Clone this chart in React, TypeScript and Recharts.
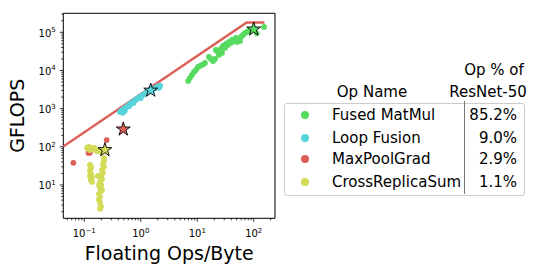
import { ScatterChart, Scatter, XAxis, YAxis, ReferenceArea, Legend, Symbols } from "recharts"

// [Floating Ops/Byte, GFLOPS]
const fusedMatMul = [
    [6.9, 5310], [7.43, 6360], [8.06, 7620], [8.75, 9140], [9.49, 10300], [10.3, 12400],
    [11.2, 13100], [12.6, 14400], [13.7, 15700], [16.1, 22500], [17.5, 20000], [19.0, 17700],
    [20.6, 20000], [21.4, 34400], [23.2, 30500], [24.2, 25500], [26.2, 36500], [27.4, 28700],
    [28.5, 43700], [30.9, 38800], [32.2, 49400], [34.9, 46500], [36.4, 55700], [39.5, 52500],
    [41.1, 62900], [44.6, 59200], [48.4, 71000], [50.4, 55700], [54.7, 66800], [57.0, 59200],
    [59.4, 75300], [64.4, 85000], [69.9, 96000], [75.8, 102000], [82.2, 108000], [89.2, 115000],
    [113, 94000], [152, 138000],
]
const loopFusion = [
    [0.43, 820], [0.46, 900], [0.48, 780], [0.5, 980], [0.52, 870], [0.55, 1100], [0.59, 1200],
    [0.62, 1150], [0.66, 1350], [0.7, 1450], [0.74, 1400], [0.78, 1650], [0.82, 1700], [0.88, 1850],
    [0.95, 2000], [1.0, 1900], [1.08, 2250], [1.15, 2400], [1.22, 2500], [1.3, 2700], [1.4, 2850],
    [1.55, 3000], [1.7, 3300], [1.85, 3500], [2.0, 3800], [2.1, 3500], [2.2, 4000],
]
const maxPoolGrad = [[0.064, 38], [0.119, 69], [0.125, 70], [0.249, 150]]
const crossReplicaSum = [
    [0.112, 94], [0.121, 99], [0.131, 94], [0.143, 88], [0.155, 83], [0.168, 78], [0.182, 78],
    [0.198, 73], [0.214, 78], [0.125, 83], [0.15, 94], [0.19, 83],
    [0.126, 33.6], [0.131, 28], [0.126, 23.4], [0.131, 19.5], [0.137, 16.3], [0.131, 13.6],
    [0.137, 12], [0.126, 17.3], [0.131, 30],
    [0.223, 51], [0.223, 42.7], [0.214, 35.6], [0.223, 29.8], [0.206, 24.8], [0.214, 20.8],
    [0.198, 17.3], [0.206, 14.4], [0.19, 12.1], [0.198, 10], [0.19, 8.4], [0.198, 7.0],
    [0.182, 5.8], [0.19, 4.9], [0.182, 4.1], [0.19, 3.4], [0.198, 2.7], [0.19, 2.4],
    [0.182, 10], [0.175, 17.3], [0.206, 7.5],
]
// one starred op per series
const stars = [[100, 120000], [1.5, 3000], [0.49, 288], [0.232, 83]]
// roofline: 2400 GB/s, 180 TFLOPS peak
const roofline = [[0.0417, 100], [75, 180000], [155, 180000]]

const opNames = ["Fused MatMul", "Loop Fusion", "MaxPoolGrad", "CrossReplicaSum"]
const opShares = ["85.2%", "9.0%", "2.9%", "1.1%"]
const COLORS = ["#57db5f", "#57d3db", "#db5f57", "#d3db57"]

const xTicks = [0.05, 0.06, 0.07, 0.08, 0.09, 0.1, 0.2, 0.3, 0.4, 0.5, 0.6, 0.7, 0.8, 0.9,
    1, 2, 3, 4, 5, 6, 7, 8, 9, 10, 20, 30, 40, 50, 60, 70, 80, 90, 100, 200]
const yTicks = [2, 3, 4, 5, 6, 7, 8, 9, 10, 20, 30, 40, 50, 60, 70, 80, 90, 100, 200, 300, 400, 500,
    600, 700, 800, 900, 1000, 2000, 3000, 4000, 5000, 6000, 7000, 8000, 9000, 10000, 20000, 30000,
    40000, 50000, 60000, 70000, 80000, 90000, 100000, 200000, 300000]

const X_DOMAIN = [0.0425, 238]
const Y_DOMAIN = [1.34, 314000]
const FONT = "DejaVu Sans"

const series = [fusedMatMul, loopFusion, maxPoolGrad, crossReplicaSum]
const toPts = (arr: number[][]) => arr.map(([x, y]) => ({ x, y }))

const expLabel = (v: number) => {
    const e = Math.round(Math.log10(v))
    const major = Math.abs(Math.log10(v) - e) < 1e-6
    return { e, major, txt: e < 0 ? "\u2212" + -e : String(e) }
}

const XTick = (props: any) => {
    const { x, y, payload } = props
    const { major, txt } = expLabel(payload.value)
    return (
        <g>
            <line x1={x} x2={x} y1={y} y2={y + (major ? 3.5 : 2)} stroke="#000" strokeWidth={0.8} />
            {major && (
                <text x={x} y={y + 18.7} textAnchor="middle" fontSize={10} fontFamily={FONT} fill="#000">
                    10<tspan dy={-4.5} fontSize={7}>{txt}</tspan>
                </text>
            )}
        </g>
    )
}

const YTick = (props: any) => {
    const { x, y, payload } = props
    const { major, txt } = expLabel(payload.value)
    return (
        <g>
            <line x1={x - (major ? 3.5 : 2)} x2={x} y1={y} y2={y} stroke="#000" strokeWidth={0.8} />
            {major && (
                <text x={x - 7.5} y={y + 4.5} textAnchor="end" fontSize={10} fontFamily={FONT} fill="#000">
                    10<tspan dy={-4.5} fontSize={7}>{txt}</tspan>
                </text>
            )}
        </g>
    )
}

const dot = (color: string) => (p: any) => <circle cx={p.cx} cy={p.cy} r={2.9} fill={color} />
const star = (color: string) => (p: any) =>
    <Symbols cx={p.cx} cy={p.cy} type="star" size={60} fill={color} stroke="#000" strokeWidth={0.9} />

const rowY = [115, 137.7, 159.3, 181.7]

const OpTable = () => (
    <div style={{ position: "relative", width: 540, height: 273, fontFamily: FONT, fontSize: 15, color: "#000", lineHeight: "18px" }}>
        <div style={{ position: "absolute", left: 434, width: 120, top: 61, textAlign: "center" }}>Op % of</div>
        <div style={{ position: "absolute", left: 428, width: 120, top: 83, textAlign: "center" }}>ResNet-50</div>
        <div style={{ position: "absolute", left: 312, width: 120, top: 83, textAlign: "center" }}>Op Name</div>
        <div style={{ position: "absolute", left: 284, top: 103, width: 239, height: 91, border: "1px solid #cccccc", borderRadius: 3 }} />
        <div style={{ position: "absolute", left: 464, top: 101, width: 1, height: 93, background: "#777" }} />
        {opNames.map((name, i) => (
            <div key={name}>
                <div style={{ position: "absolute", left: 301, top: rowY[i] - 4, width: 8, height: 8, borderRadius: 4, background: COLORS[i] }} />
                <div style={{ position: "absolute", left: 332, top: rowY[i] - 9, whiteSpace: "nowrap" }}>{name}</div>
                <div style={{ position: "absolute", left: 467, width: 50, top: rowY[i] - 9, textAlign: "right" }}>{opShares[i]}</div>
            </div>
        ))}
    </div>
)

export default function App() {
    return (
        <div style={{ position: "absolute", left: 0, top: 0, width: 540, height: 273, background: "#fff" }}>
            <ScatterChart width={540} height={273} margin={{ top: 13.3, right: 265, bottom: 0, left: 0 }}>
                <XAxis
                    dataKey="x" type="number" scale="log" domain={X_DOMAIN} allowDataOverflow
                    ticks={xTicks} interval={0} tick={<XTick />} tickSize={0} tickMargin={0}
                    tickLine={false} axisLine={false} height={54.7}
                    label={() => (
                        <text x={169.2} y={260} textAnchor="middle" fontSize={19} fontFamily={FONT} fill="#000">
                            Floating Ops/Byte
                        </text>
                    )}
                />
                <YAxis
                    dataKey="y" type="number" scale="log" domain={Y_DOMAIN} allowDataOverflow
                    ticks={yTicks} interval={0} tick={<YTick />} tickSize={0} tickMargin={0}
                    tickLine={false} axisLine={false} width={63.3}
                    label={() => (
                        <text x={24} y={115.8} transform="rotate(-90 24 115.8)" textAnchor="middle" fontSize={19} fontFamily={FONT} fill="#000">
                            GFLOPS
                        </text>
                    )}
                />
                <Scatter data={toPts(roofline)} line={{ stroke: "#db5f57", strokeWidth: 2.5 }} shape={() => <g />} isAnimationActive={false} legendType="none" />
                {series.map((s, i) => (
                    <Scatter key={opNames[i]} name={opNames[i]} data={toPts(s)} fill={COLORS[i]} shape={dot(COLORS[i])} isAnimationActive={false} />
                ))}
                {stars.map((s, i) => (
                    <Scatter key={"star" + i} data={toPts([s])} shape={star(COLORS[i])} isAnimationActive={false} legendType="none" />
                ))}
                <ReferenceArea x1={X_DOMAIN[0]} x2={X_DOMAIN[1]} y1={Y_DOMAIN[0]} y2={Y_DOMAIN[1]} fill="none" stroke="#000" strokeWidth={1} />
                <Legend layout="vertical" align="center" verticalAlign="middle" content={<OpTable />}
                    wrapperStyle={{ left: 0, top: 0, width: 540, height: 273 }} />
            </ScatterChart>
        </div>
    )
}
